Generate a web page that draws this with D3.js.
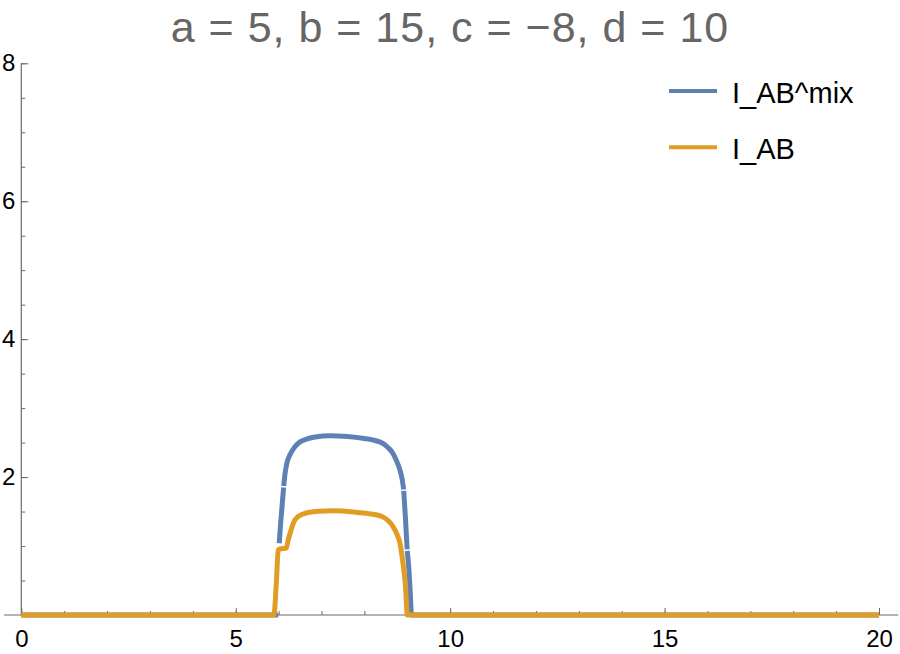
<!DOCTYPE html>
<html>
<head>
<meta charset="utf-8">
<script src="https://cdn.jsdelivr.net/npm/d3@7"></script>
<style>
  html, body { margin: 0; padding: 0; background: #fff; }
  svg { display: block; font-family: "Liberation Sans", Arial, Helvetica, sans-serif; }
</style>
</head>
<body>
<svg id="chart" width="900" height="654"></svg>
<script>
// ---- data ----
const titleText = "a = 5, b = 15, c = \u22128, d = 10";
const seriesNames = ["I_AB^mix", "I_AB"];
const seriesColors = ["#5E81B5", "#E19C24"];

const xMajorTicks = [0, 5, 10, 15, 20];
const xMinorTicks = d3.range(0, 20.01, 1);
const yMajorTicks = [0, 2, 4, 6, 8];
const yMinorTicks = d3.range(0, 8.01, 0.5);

// null marks a break in the drawn line
const blueX = [0, 5.99, null,
  6.014, 6.05, 6.09, 6.117, null,
  6.119, 6.15, 6.20, 6.27, 6.38, 6.50, 6.65, 6.85, 7.2, 7.6, 8.0, 8.25, 8.43, 8.55, 8.66, 8.76, 8.83, 8.88, 8.916, null,
  8.918, 8.96, 8.997, null,
  8.999, 9.04, 9.07, 9.10, 20];
const blueY = [0, 0, null,
  1.04, 1.35, 1.65, 1.85, null,
  1.87, 2.05, 2.22, 2.33, 2.44, 2.51, 2.55, 2.58, 2.60, 2.59, 2.56, 2.53, 2.49, 2.43, 2.35, 2.22, 2.10, 1.97, 1.82, null,
  1.80, 1.38, 0.95, null,
  0.93, 0.65, 0.32, 0, 0];

const orangeX = [0, 5.89, 5.95, 5.99, 6.05, 6.18, 6.22, 6.27, 6.38, 6.55, 6.85, 7.3, 7.8, 8.1, 8.3, 8.44, 8.57, 8.67, 8.76, 8.83, 8.90, 8.96, 9.0, 20];
const orangeY = [0, 0, 0.5, 0.94, 0.96, 0.97, 1.08, 1.19, 1.38, 1.46, 1.50, 1.51, 1.49, 1.47, 1.45, 1.42, 1.36, 1.28, 1.17, 1.04, 0.75, 0.41, 0, 0];

// ---- layout ----
const svg = d3.select("#chart");
const x = d3.scaleLinear().domain([0, 20]).range([21.3, 879]);
const y = d3.scaleLinear().domain([0, 8]).range([615, 63.3]);
const axisColor = "#6b6b6b";

// title
svg.append("text")
  .attr("x", 450).attr("y", 42)
  .attr("text-anchor", "middle")
  .attr("font-size", 43)
  .attr("letter-spacing", 1)
  .attr("fill", "#666666")
  .text(titleText);

// x axis
const gx = svg.append("g").attr("transform", `translate(0,${y(0)})`);
gx.append("line")
  .attr("x1", x(-0.4)).attr("x2", x(20.45))
  .attr("stroke", axisColor).attr("stroke-width", 1.2);
gx.append("g")
  .call(d3.axisBottom(x).tickValues(xMinorTicks).tickSize(-4).tickSizeOuter(0).tickFormat(""))
  .call(g => g.select(".domain").remove())
  .call(g => g.selectAll("line").attr("stroke", axisColor));
gx.append("g")
  .call(d3.axisBottom(x).tickValues(xMajorTicks).tickSize(-7).tickSizeOuter(0).tickPadding(15).tickFormat(d3.format("d")))
  .call(g => g.select(".domain").remove())
  .call(g => g.selectAll("line").attr("stroke", axisColor))
  .call(g => g.selectAll("text").attr("font-size", 24).attr("fill", "#000").attr("font-family", "Liberation Sans, Arial, sans-serif"));

// y axis
const gy = svg.append("g").attr("transform", `translate(${x(0)},0)`);
gy.append("line")
  .attr("y1", y(8)).attr("y2", y(0))
  .attr("stroke", axisColor).attr("stroke-width", 1.2);
gy.append("g")
  .call(d3.axisLeft(y).tickValues(yMinorTicks).tickSize(-4).tickSizeOuter(0).tickFormat(""))
  .call(g => g.select(".domain").remove())
  .call(g => g.selectAll("line").attr("stroke", axisColor));
gy.append("g")
  .call(d3.axisLeft(y).tickValues(yMajorTicks.filter(d => d !== 0)).tickSize(-7).tickSizeOuter(0).tickPadding(6).tickFormat(d3.format("d")))
  .call(g => g.select(".domain").remove())
  .call(g => g.selectAll("line").attr("stroke", axisColor))
  .call(g => g.selectAll("text").attr("font-size", 24).attr("fill", "#000").attr("font-family", "Liberation Sans, Arial, sans-serif"));

// lines
const line = d3.line()
  .defined(d => d[0] !== null && d[1] !== null)
  .x(d => x(d[0])).y(d => y(d[1]))
  .curve(d3.curveMonotoneX);

const bluePts = blueX.map((v, i) => [v, blueY[i]]);
const orangePts = orangeX.map((v, i) => [v, orangeY[i]]);

svg.append("path").datum(bluePts)
  .attr("d", line).attr("fill", "none")
  .attr("stroke", seriesColors[0]).attr("stroke-width", 5)
  .attr("stroke-linejoin", "round");
svg.append("path").datum(orangePts)
  .attr("d", line).attr("fill", "none")
  .attr("stroke", seriesColors[1]).attr("stroke-width", 5)
  .attr("stroke-linejoin", "round");

// legend
const legend = svg.append("g");
seriesNames.forEach((name, i) => {
  const ly = 91 + i * 56.3;
  legend.append("line")
    .attr("x1", 669).attr("x2", 717).attr("y1", ly).attr("y2", ly)
    .attr("stroke", seriesColors[i]).attr("stroke-width", 4);
  legend.append("text")
    .attr("x", 732).attr("y", ly + 12)
    .attr("font-size", 29).attr("fill", "#000")
    .text(name);
});
</script>
</body>
</html>
